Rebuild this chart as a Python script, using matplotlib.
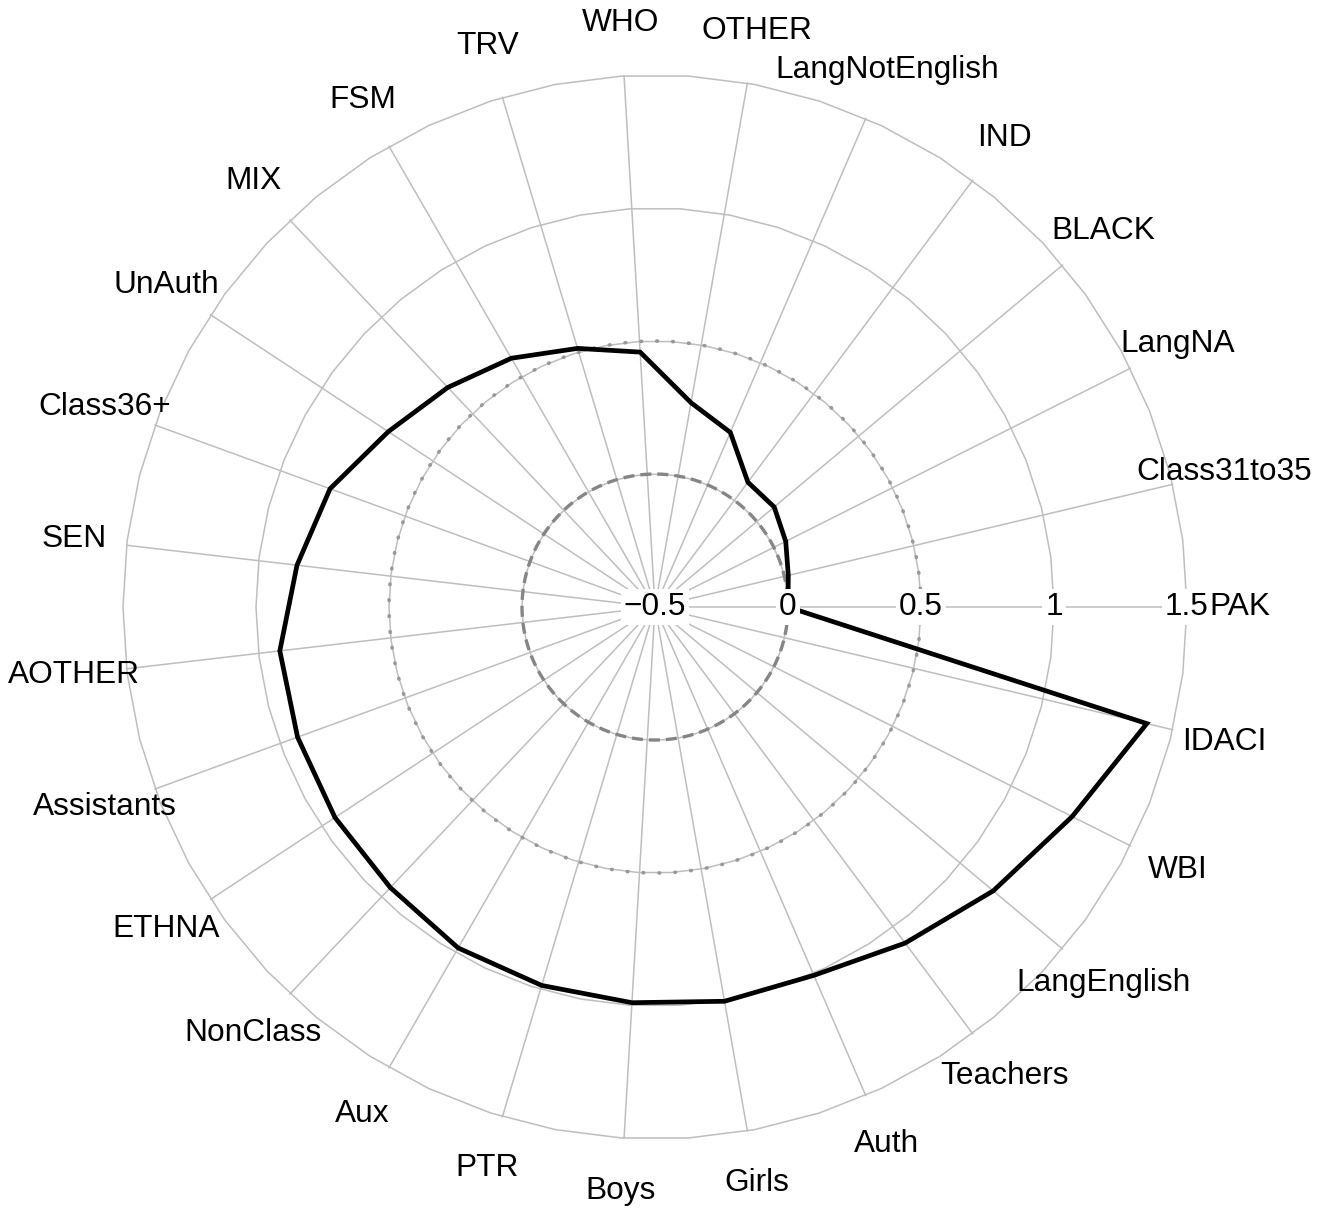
import numpy as np
import matplotlib
matplotlib.use("Agg")
import matplotlib.pyplot as plt

plt.rcParams['font.family'] = ['Liberation Sans', 'DejaVu Sans']

# Variables in drawing order: clockwise, starting at the 3 o'clock spoke
categories = ["PAK", "IDACI", "WBI", "LangEnglish", "Teachers", "Auth", "Girls",
              "Boys", "PTR", "Aux", "NonClass", "ETHNA", "Assistants", "AOTHER",
              "SEN", "Class36+", "UnAuth", "MIX", "FSM", "TRV", "WHO", "OTHER",
              "LangNotEnglish", "IND", "BLACK", "LangNA", "Class31to35"]
values = [0.00, 1.40, 1.255, 1.16, 1.075, 1.008, 1.005, 0.99, 0.985, 0.98,
          0.95, 0.94, 0.93, 0.92, 0.855, 0.80, 0.70, 0.635, 0.58, 0.515,
          0.46, 0.28, 0.215, 0.085, 0.085, 0.05, 0.015]

# Radial scale
grid_levels = [-0.5, 0, 0.5, 1, 1.5]
tick_labels = ["\u22120.5", "0", "0.5", "1", "1.5"]
dashed_level = 0
dotted_level = 0.5
label_radius = 1.70

GRID_COL = '#BEBEBE'
FONT_SIZE = 22.8


def draw_grid(ax, theta):
    """Polygonal rings, spokes and the two reference circles."""
    rmin, rmax = grid_levels[0], grid_levels[-1]
    ring = np.linspace(0, 2 * np.pi, 51)
    for lvl in grid_levels[1:]:
        ax.plot(ring, np.full_like(ring, lvl), color=GRID_COL, lw=1.1,
                zorder=1, clip_on=False)

    for t in theta:
        ax.plot([t, t], [rmin, rmax], color=GRID_COL, lw=1.1, zorder=1,
                clip_on=False)

    circ = np.linspace(0, 2 * np.pi, 721)
    ax.plot(circ, np.full_like(circ, dashed_level), color='#858585', lw=2.4,
            ls=(0, (3.3, 1.8)), zorder=2)
    # dotted ring: short round-capped dashes read as dots
    ax.plot(circ, np.full_like(circ, dotted_level), color='#999999', lw=2.6,
            ls=(0, (0.2, 4.2)), dash_capstyle='round', zorder=2)


def radar_chart():
    fig = plt.figure(figsize=(13.34, 12.12), dpi=100)
    ax = fig.add_axes([0.0922, 0.0602, 0.7976, 0.8779], projection='polar')
    ax.set_theta_zero_location('E')
    ax.set_theta_direction(-1)
    ax.set_ylim(grid_levels[0], grid_levels[-1])
    ax.grid(False)
    ax.set_xticks([])
    ax.set_yticks([])
    ax.spines['polar'].set_visible(False)
    ax.patch.set_visible(False)

    n = len(categories)
    theta = np.arange(n) * 2 * np.pi / n

    draw_grid(ax, theta)

    # data polygon (closed)
    ax.plot(np.append(theta, theta[0]), np.append(values, values[0]),
            color='black', lw=3.4, solid_joinstyle='miter', zorder=3,
            clip_on=False)

    # scale labels along the first spoke
    for lvl, lab in zip(grid_levels, tick_labels):
        ax.text(0, lvl, lab, ha='center', va='center', fontsize=FONT_SIZE,
                zorder=5, bbox=dict(facecolor='white', edgecolor='none',
                                    boxstyle='square,pad=0.1'))

    # variable names
    for t, name in zip(theta, categories):
        ax.text(t, label_radius, name, ha='center', va='center',
                fontsize=FONT_SIZE, zorder=5)

    fig.savefig('out.png', dpi=100, facecolor='white')


if __name__ == "__main__":
    radar_chart()
